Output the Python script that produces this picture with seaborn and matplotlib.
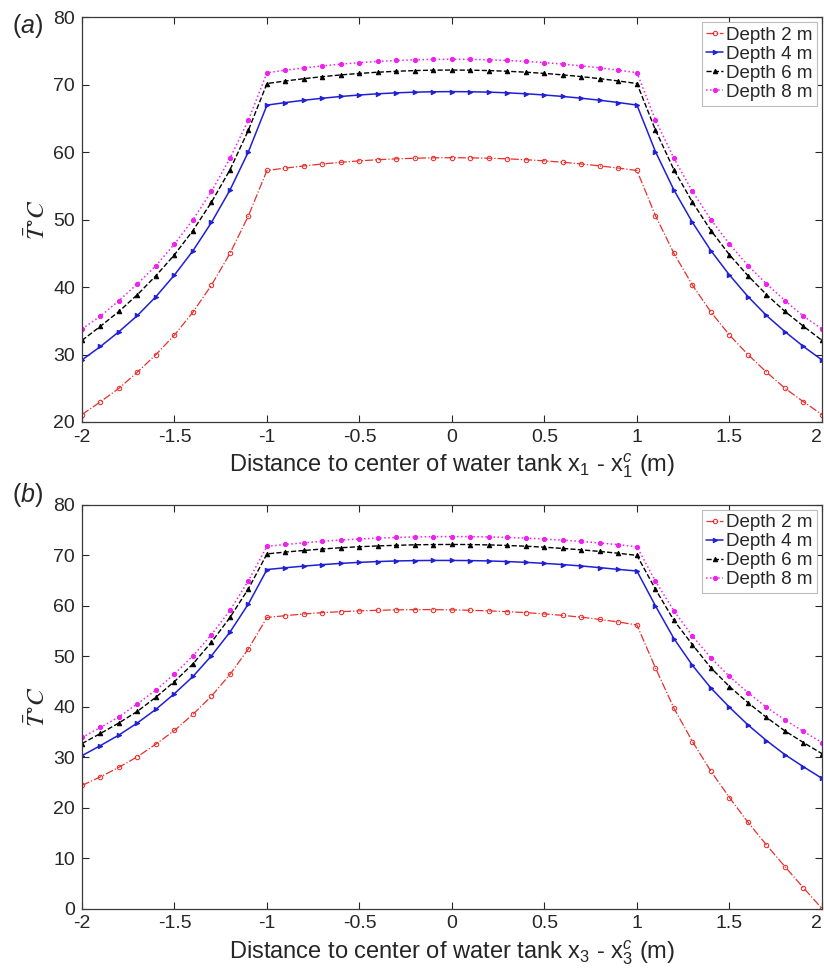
import numpy as np
import pandas as pd
import seaborn as sns
import matplotlib.pyplot as plt
from matplotlib.ticker import FormatStrFormatter

# distance grid (m)
x = [-2.0, -1.9, -1.8, -1.7, -1.6, -1.5, -1.4, -1.3, -1.2, -1.1,
     -1.0, -0.9, -0.8, -0.7, -0.6, -0.5, -0.4, -0.3, -0.2, -0.1,
     0.0, 0.1, 0.2, 0.3, 0.4, 0.5, 0.6, 0.7, 0.8, 0.9,
     1.0, 1.1, 1.2, 1.3, 1.4, 1.5, 1.6, 1.7, 1.8, 1.9, 2.0]

depth_labels = ["Depth 2 m", "Depth 4 m", "Depth 6 m", "Depth 8 m"]

# panel (a): along x1
a_d2 = [21.1, 23.0, 25.0, 27.4, 30.0, 32.9, 36.3, 40.3, 45.0, 50.6,
        57.3, 57.66, 57.98, 58.27, 58.52, 58.73, 58.9, 59.03, 59.12, 59.18,
        59.2, 59.18, 59.12, 59.03, 58.9, 58.73, 58.52, 58.27, 57.98, 57.66,
        57.3, 50.6, 45.0, 40.3, 36.3, 32.9, 30.0, 27.4, 25.0, 23.0, 21.1]
a_d4 = [29.2, 31.2, 33.4, 35.8, 38.6, 41.8, 45.4, 49.6, 54.4, 60.1,
        67.0, 67.38, 67.72, 68.02, 68.28, 68.5, 68.68, 68.82, 68.92, 68.98,
        69.0, 68.98, 68.92, 68.82, 68.68, 68.5, 68.28, 68.02, 67.72, 67.38,
        67.0, 60.1, 54.4, 49.6, 45.4, 41.8, 38.6, 35.8, 33.4, 31.2, 29.2]
a_d6 = [32.1, 34.2, 36.4, 38.9, 41.7, 44.8, 48.4, 52.6, 57.4, 63.3,
        70.2, 70.58, 70.92, 71.22, 71.48, 71.7, 71.88, 72.02, 72.12, 72.18,
        72.2, 72.18, 72.12, 72.02, 71.88, 71.7, 71.48, 71.22, 70.92, 70.58,
        70.2, 63.3, 57.4, 52.6, 48.4, 44.8, 41.7, 38.9, 36.4, 34.2, 32.1]
a_d8 = [33.8, 35.7, 38.0, 40.5, 43.2, 46.4, 50.0, 54.2, 59.1, 64.8,
        71.8, 72.18, 72.52, 72.82, 73.08, 73.3, 73.48, 73.62, 73.72, 73.78,
        73.8, 73.78, 73.72, 73.62, 73.48, 73.3, 73.08, 72.82, 72.52, 72.18,
        71.8, 64.8, 59.1, 54.2, 50.0, 46.4, 43.2, 40.5, 38.0, 35.7, 33.8]

# panel (b): along x3
b_d2 = [24.4, 26.1, 28.0, 30.1, 32.6, 35.3, 38.5, 42.1, 46.4, 51.5,
        57.7, 58.05, 58.4, 58.65, 58.85, 59.0, 59.12, 59.2, 59.25, 59.25,
        59.2, 59.12, 59.0, 58.85, 58.65, 58.4, 58.1, 57.75, 57.3, 56.8,
        56.2, 47.7, 39.7, 33.1, 27.2, 22.0, 17.1, 12.6, 8.3, 4.1, 0.0]
b_d4 = [30.3, 32.3, 34.4, 36.8, 39.5, 42.6, 46.0, 50.1, 54.8, 60.4,
        67.2, 67.55, 67.88, 68.17, 68.42, 68.62, 68.78, 68.9, 68.97, 69.0,
        69.0, 68.97, 68.9, 68.78, 68.62, 68.42, 68.18, 67.9, 67.57, 67.22,
        66.9, 60.0, 53.5, 48.2, 43.7, 39.9, 36.4, 33.3, 30.5, 28.1, 25.8]
b_d6 = [32.7, 34.7, 36.8, 39.1, 41.9, 45.0, 48.5, 52.8, 57.7, 63.4,
        70.3, 70.66, 70.98, 71.27, 71.52, 71.72, 71.88, 72.0, 72.1, 72.15,
        72.17, 72.15, 72.08, 71.97, 71.82, 71.62, 71.38, 71.1, 70.78, 70.42,
        70.0, 63.3, 57.1, 52.3, 47.7, 44.0, 40.8, 37.9, 35.2, 32.9, 30.7]
b_d8 = [33.9, 35.9, 38.0, 40.6, 43.3, 46.5, 50.1, 54.3, 59.1, 65.0,
        71.8, 72.17, 72.5, 72.8, 73.05, 73.26, 73.43, 73.56, 73.66, 73.72,
        73.74, 73.72, 73.66, 73.56, 73.42, 73.24, 73.02, 72.76, 72.46, 72.12,
        71.7, 64.9, 59.0, 54.0, 49.7, 46.0, 42.8, 39.9, 37.4, 35.1, 32.9]

styles = [
    dict(color="#e8302c", linestyle="-.", marker="o", markersize=3.2,
         markerfacecolor="none", markeredgecolor="#e8302c", linewidth=0.9),
    dict(color="#1f1fd6", linestyle="-", marker=">", markersize=3.2,
         markerfacecolor="#1f1fd6", markeredgecolor="#1f1fd6", linewidth=1.1),
    dict(color="black", linestyle="--", marker="^", markersize=3.2,
         markerfacecolor="black", markeredgecolor="black", linewidth=1.0),
    dict(color="#f020f0", linestyle=":", marker="o", markersize=3.0,
         markerfacecolor="#f020f0", markeredgecolor="#f020f0", linewidth=1.1),
]

sns.set_style("ticks")
plt.rcParams["font.family"] = ["Liberation Sans", "DejaVu Sans"]
plt.rcParams["axes.unicode_minus"] = False
plt.rcParams["mathtext.fontset"] = "custom"
plt.rcParams["mathtext.rm"] = "Liberation Sans"
plt.rcParams["mathtext.it"] = "Liberation Sans:italic"

fig = plt.figure(figsize=(8.24, 9.75), dpi=100)
ax_a = fig.add_axes([0.0995, 0.5672, 0.898, 0.4149])
ax_b = fig.add_axes([0.0995, 0.0682, 0.898, 0.4139])

panels = [
    (ax_a, [a_d2, a_d4, a_d6, a_d8], (20, 80), "1", "($a$)", 0.973),
    (ax_b, [b_d2, b_d4, b_d6, b_d8], (0, 80), "3", "($b$)", 0.492),
]

for ax, series, ylim, idx, tag, ty in panels:
    for vals, lab, st in zip(series, depth_labels, styles):
        sns.lineplot(x=x, y=vals, ax=ax, label=lab, **st)
    ax.set_xlim(-2, 2)
    ax.set_ylim(*ylim)
    ax.set_xticks([-2, -1.5, -1, -0.5, 0, 0.5, 1, 1.5, 2])
    ax.set_yticks(np.arange(ylim[0], 81, 10))
    ax.xaxis.set_major_formatter(FormatStrFormatter("%g"))
    ax.tick_params(direction="in", length=5, width=0.8, top=True, right=True,
                   labelsize=14, colors="#262626", pad=5)
    # keep the last x tick label inside the figure
    ax.get_xticklabels()[-1].set_horizontalalignment("right")
    for sp in ax.spines.values():
        sp.set_visible(True)
        sp.set_color("#3a3a3a")
        sp.set_linewidth(0.9)
    ax.set_xlabel(f"Distance to center of water tank x$_{idx}$ - x$_{idx}^c$ (m)",
                  fontsize=17, labelpad=4)
    ax.set_ylabel(r"$\bar{T}^{\circ}C$", fontsize=18, labelpad=2,
                  math_fontfamily="stix")
    leg = ax.legend(loc="upper right", fontsize=13.5, handlelength=0.9,
                    handletextpad=0.15, labelspacing=0.1, borderpad=0.25,
                    borderaxespad=0.25, fancybox=False, framealpha=1,
                    edgecolor="#bbbbbb")
    leg.get_frame().set_linewidth(0.8)
    fig.text(0.014, ty, tag, fontsize=18, va="center", ha="left")

plt.savefig("out.png", dpi=100)
